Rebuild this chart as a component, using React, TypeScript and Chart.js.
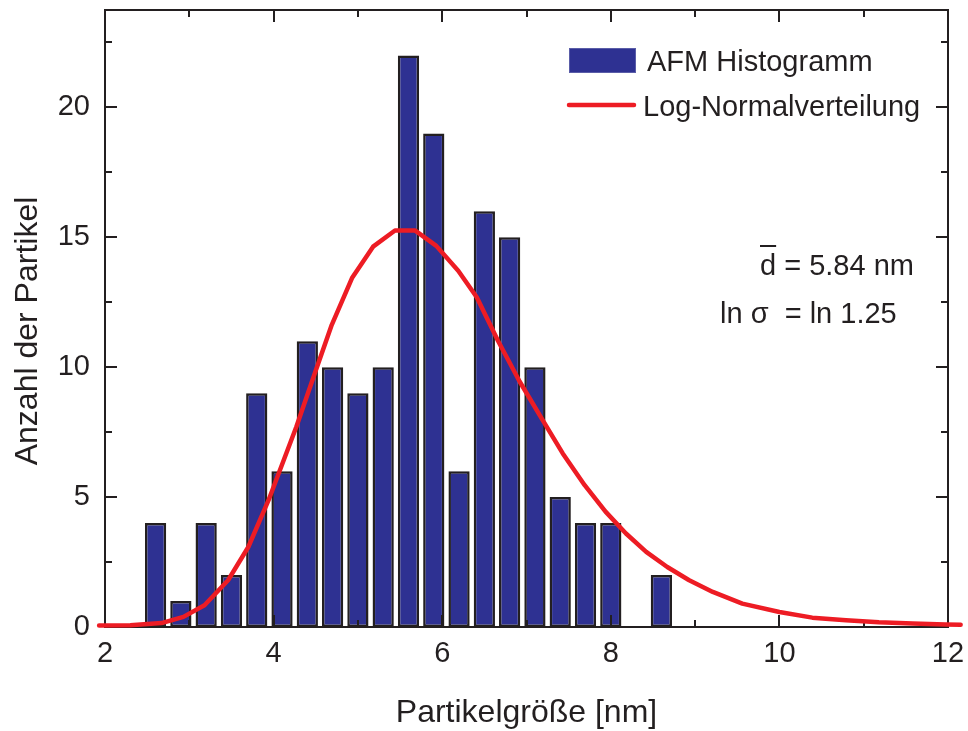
import React, { useEffect, useRef } from "react";
import { Chart, registerables } from "chart.js";

Chart.register(...registerables);

// ---- data ----
const binCenters = [2.6, 2.9, 3.2, 3.5, 3.8, 4.1, 4.4, 4.7, 5.0, 5.3, 5.6, 5.9, 6.2, 6.5, 6.8, 7.1, 7.4, 7.7, 8.0, 8.3, 8.6];
const counts = [4, 1, 4, 2, 9, 6, 11, 10, 9, 10, 22, 19, 6, 16, 15, 10, 5, 4, 4, 0, 2];

const fitX = [1.93, 2.3, 2.67, 2.93, 3.18, 3.46, 3.7, 3.94, 4.27, 4.49, 4.69, 4.93, 5.18, 5.44, 5.68, 5.93, 6.19, 6.41, 6.66, 6.92, 7.19, 7.43, 7.69, 7.94, 8.18, 8.42, 8.67, 8.93, 9.21, 9.56, 10.0, 10.39, 10.79, 11.18, 11.58, 11.97, 12.15];
const fitY = [0.06, 0.07, 0.15, 0.39, 0.84, 1.8, 3.08, 4.88, 7.71, 9.78, 11.63, 13.43, 14.64, 15.26, 15.26, 14.67, 13.71, 12.69, 11.03, 9.44, 7.97, 6.68, 5.46, 4.43, 3.6, 2.89, 2.31, 1.8, 1.35, 0.9, 0.58, 0.36, 0.26, 0.18, 0.13, 0.1, 0.09];

const xMajorTicks = [2, 4, 6, 8, 10, 12];
const xMinorTicks = [3, 5, 7, 9, 11];
const yMajorTicks = [0, 5, 10, 15, 20];
const yMinorTicks = [2.5, 7.5, 12.5, 17.5, 22.5];

const xTitle = "Partikelgröße [nm]";
const yTitle = "Anzahl der Partikel";
const legendLabels = ["AFM Histogramm", "Log-Normalverteilung"];
const meanText = "d = 5.84 nm";
const sigmaText = "ln σ  = ln 1.25";

// ---- styles ----
const INK = "#231F20";
const BLUE = "#2E3192";
const RED = "#ED1C24";
const FAMILY = '"Liberation Sans", Arial, Helvetica, sans-serif';

const framePlugin = {
  id: "framePlugin",
  afterDatasetDraw(chart: any, args: any) {
    if (args.index !== 0) return;
    const { ctx, chartArea: a, scales } = chart;
    const x = scales.x;
    const y = scales.y;
    ctx.save();
    ctx.strokeStyle = INK;
    ctx.lineWidth = 2;
    ctx.lineCap = "butt";
    ctx.strokeRect(a.left, a.top, a.right - a.left, a.bottom - a.top);
    const major = 12;
    const minor = 7;
    ctx.beginPath();
    const xt = (v: number, len: number) => {
      const px = Math.round(x.getPixelForValue(v));
      ctx.moveTo(px, a.bottom);
      ctx.lineTo(px, a.bottom - len);
      ctx.moveTo(px, a.top);
      ctx.lineTo(px, a.top + len);
    };
    const yt = (v: number, len: number) => {
      const py = Math.round(y.getPixelForValue(v));
      ctx.moveTo(a.left, py);
      ctx.lineTo(a.left + len, py);
      ctx.moveTo(a.right, py);
      ctx.lineTo(a.right - len, py);
    };
    xMajorTicks.forEach((v) => xt(v, major));
    xMinorTicks.forEach((v) => xt(v, minor));
    yMajorTicks.forEach((v) => yt(v, major));
    yMinorTicks.forEach((v) => yt(v, minor));
    ctx.stroke();
    ctx.restore();
  },
  afterDraw(chart: any) {
    const { ctx, chartArea: a } = chart;
    ctx.save();
    ctx.fillStyle = INK;
    ctx.textBaseline = "alphabetic";

    // axis titles
    ctx.font = `32px ${FAMILY}`;
    ctx.textAlign = "center";
    ctx.fillText(xTitle, (a.left + a.right) / 2, 722);
    ctx.save();
    ctx.translate(37, 331);
    ctx.rotate(-Math.PI / 2);
    ctx.fillText(yTitle, 0, 0);
    ctx.restore();

    // legend
    ctx.textAlign = "left";
    ctx.font = `29px ${FAMILY}`;
    ctx.fillStyle = BLUE;
    ctx.fillRect(569, 48, 67, 25);
    ctx.strokeStyle = "#5A5DA8";
    ctx.lineWidth = 1;
    ctx.strokeRect(569.5, 48.5, 66, 24);
    ctx.fillStyle = INK;
    ctx.fillText(legendLabels[0], 647, 71);
    ctx.strokeStyle = RED;
    ctx.lineWidth = 4.5;
    ctx.lineCap = "round";
    ctx.beginPath();
    ctx.moveTo(569, 105);
    ctx.lineTo(634, 105);
    ctx.stroke();
    ctx.fillText(legendLabels[1], 643, 116);

    // annotations
    ctx.fillText(meanText, 760, 275);
    const dW = ctx.measureText("d").width;
    ctx.strokeStyle = INK;
    ctx.lineWidth = 2;
    ctx.lineCap = "butt";
    ctx.beginPath();
    ctx.moveTo(760, 246);
    ctx.lineTo(760 + dW, 246);
    ctx.stroke();
    ctx.fillText(sigmaText, 720, 323);
    ctx.restore();
  },
};

export default function App() {
  const ref = useRef<HTMLCanvasElement>(null);
  useEffect(() => {
    const canvas = ref.current;
    if (!canvas) return;
    const chart = new Chart(canvas, {
      type: "bar",
      data: {
        datasets: [
          {
            type: "bar",
            label: legendLabels[0],
            data: binCenters.map((x, i) => ({ x, y: counts[i] })),
            backgroundColor: BLUE,
            borderColor: INK,
            borderWidth: 2.5,
            borderSkipped: false,
            barPercentage: 0.84,
            categoryPercentage: 1,
            order: 1,
          } as any,
          {
            type: "line",
            label: legendLabels[1],
            data: fitX.map((x, i) => ({ x, y: fitY[i] })),
            borderColor: RED,
            backgroundColor: RED,
            borderWidth: 4.5,
            pointRadius: 0,
            tension: 0,
            fill: false,
            clip: false,
            borderCapStyle: "round",
            borderJoinStyle: "round",
            order: 0,
          } as any,
        ],
      },
      options: {
        animation: false,
        responsive: false,
        devicePixelRatio: 1,
        events: [],
        layout: { padding: { top: 10, right: 20, left: 0, bottom: 0 } },
        plugins: { legend: { display: false }, tooltip: { enabled: false } },
        scales: {
          x: {
            type: "linear",
            min: 2,
            max: 12,
            offset: false,
            afterBuildTicks: (s: any) => {
              s.ticks = xMajorTicks.map((v) => ({ value: v }));
            },
            afterFit: (s: any) => {
              s.height = 104;
              s.paddingLeft = 0;
              s.paddingRight = 0;
            },
            grid: { display: false, drawTicks: false, offset: false },
            border: { display: false },
            ticks: {
              padding: 10,
              color: INK,
              font: { family: FAMILY, size: 29 },
              maxRotation: 0,
              autoSkip: false,
            },
          },
          y: {
            type: "linear",
            min: 0,
            max: 23.75,
            afterBuildTicks: (s: any) => {
              s.ticks = yMajorTicks.map((v) => ({ value: v }));
            },
            afterFit: (s: any) => {
              s.width = 105;
              s.paddingTop = 0;
              s.paddingBottom = 0;
            },
            grid: { display: false, drawTicks: false },
            border: { display: false },
            ticks: {
              padding: 15,
              color: INK,
              font: { family: FAMILY, size: 29 },
              autoSkip: false,
            },
          },
        },
      } as any,
      plugins: [framePlugin],
    });
    return () => chart.destroy();
  }, []);
  return (
    <div style={{ position: "absolute", left: 0, top: 0, width: 968, height: 731, background: "#fff" }}>
      <canvas ref={ref} width={968} height={731} style={{ display: "block", width: 968, height: 731 }} />
    </div>
  );
}
